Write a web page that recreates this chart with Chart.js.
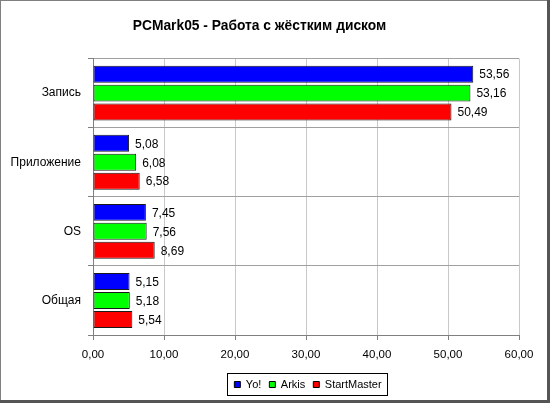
<!DOCTYPE html>
<html>
<head>
<meta charset="utf-8">
<script src="https://cdn.jsdelivr.net/npm/chart.js@4/dist/chart.umd.min.js"></script>
<style>
  html, body { margin: 0; padding: 0; background: #fff; }
  #wrap { width: 550px; height: 403px; }
</style>
</head>
<body>
<div id="wrap"><canvas id="chart" width="550" height="403"></canvas></div>
<script>
// ---- data ----
const categories = ['Запись', 'Приложение', 'OS', 'Общая'];
const yoValues = [53.56, 5.08, 7.45, 5.15];
const arkisValues = [53.16, 6.08, 7.56, 5.18];
const startMasterValues = [50.49, 6.58, 8.69, 5.54];
const seriesNames = ['Yo!', 'Arkis', 'StartMaster'];
const xTicks = [0, 10, 20, 30, 40, 50, 60];

const fmt = (v, d) => v.toFixed(d).replace('.', ',');
const FONT = 'Liberation Sans, Arial, sans-serif';

// рамка вокруг всей картинки
const framePlugin = {
    id: 'frame',
    beforeDraw(chart) {
        const ctx = chart.ctx;
        ctx.save();
        ctx.fillStyle = '#fff';
        ctx.fillRect(0, 0, chart.width, chart.height);
        ctx.fillStyle = '#808080';
        ctx.fillRect(0, 0, chart.width, 1);
        ctx.fillRect(0, 0, 1, chart.height);
        ctx.fillStyle = '#555';
        ctx.fillRect(chart.width - 3, 0, 3, chart.height);
        ctx.fillRect(0, chart.height - 3, chart.width, 3);
        ctx.restore();
    }
};

// легенда центрируется по области графика
const legendCenter = {
    id: 'legendCenter',
    afterLayout(chart) {
        const lg = chart.legend, area = chart.chartArea;
        lg.left = area.left + 2;
        lg.right = area.right + 2;
        lg.width = area.right - area.left;
        lg.top += 5;
        lg.bottom += 5;
    }
};

// подписи значений справа от столбиков
const valueLabels = {
    id: 'valueLabels',
    afterDatasetsDraw(chart) {
        const ctx = chart.ctx;
        ctx.save();
        ctx.font = '12px ' + FONT;
        ctx.fillStyle = '#000';
        ctx.textAlign = 'left';
        ctx.textBaseline = 'middle';
        chart.data.datasets.forEach((ds, i) => {
            chart.getDatasetMeta(i).data.forEach((bar, j) => {
                ctx.fillText(fmt(ds.data[j], 2), bar.x + 6, bar.y + 1);
            });
        });
        ctx.restore();
    }
};

// рамка вокруг легенды
const legendBox = {
    id: 'legendBox',
    afterDraw(chart) {
        const boxes = chart.legend.legendHitBoxes;
        if (!boxes || !boxes.length) return;
        const l = Math.min(...boxes.map(b => b.left));
        const r = Math.max(...boxes.map(b => b.left + b.width));
        const t = Math.min(...boxes.map(b => b.top));
        const b2 = Math.max(...boxes.map(b => b.top + b.height));
        const ctx = chart.ctx;
        ctx.save();
        ctx.strokeStyle = '#000';
        ctx.lineWidth = 1;
        ctx.strokeRect(Math.round(l - 7) + 0.5, Math.round(t - 6) + 0.5,
            Math.round(r - l + 13), Math.round(b2 - t + 11));
        ctx.restore();
    }
};

const mkSet = (label, data, color) => ({
    label: label,
    data: data,
    backgroundColor: color,
    borderColor: '#1a1a1a',
    borderWidth: 1,
    borderSkipped: false,
    categoryPercentage: 0.823,
    barPercentage: 0.895
});

new Chart(document.getElementById('chart'), {
    type: 'bar',
    data: {
        labels: categories,
        datasets: [
            mkSet(seriesNames[0], yoValues, '#0000ff'),
            mkSet(seriesNames[1], arkisValues, '#00ff00'),
            mkSet(seriesNames[2], startMasterValues, '#ff0000')
        ]
    },
    options: {
        indexAxis: 'y',
        responsive: false,
        animation: false,
        layout: { padding: { left: 0, right: 31, top: 0, bottom: 8 } },
        plugins: {
            title: {
                display: true,
                text: 'PCMark05 - Работа с жёстким диском',
                color: '#000',
                font: { family: FONT, size: 13.8, weight: 'bold' },
                padding: { top: 18, bottom: 24 }
            },
            legend: {
                position: 'bottom',
                labels: {
                    color: '#000',
                    font: { family: FONT, size: 11 },
                    boxWidth: 6,
                    boxHeight: 6,
                    padding: 8,
                    generateLabels: (chart) => chart.data.datasets.map((ds, i) => ({
                        text: ds.label,
                        fillStyle: ds.backgroundColor,
                        strokeStyle: '#000',
                        lineWidth: 1,
                        datasetIndex: i
                    }))
                }
            },
            tooltip: { enabled: false }
        },
        scales: {
            x: {
                min: 0,
                max: 60,
                afterBuildTicks: (scale) => { scale.ticks = xTicks.map(v => ({ value: v })); },
                afterFit: (scale) => { scale.height = 31; },
                ticks: {
                    color: '#000',
                    font: { family: FONT, size: 11.5 },
                    padding: 8,
                    callback: (v) => fmt(v, 2)
                },
                grid: { color: '#c8c8c8', tickColor: '#808080', tickLength: 5 },
                border: { color: '#808080' }
            },
            y: {
                afterFit: (scale) => { scale.width = 93; },
                ticks: {
                    color: '#000',
                    font: { family: FONT, size: 12 },
                    padding: 7
                },
                grid: { color: '#a0a0a0', tickColor: '#808080', tickLength: 5 },
                border: { color: '#808080' }
            }
        }
    },
    plugins: [framePlugin, legendCenter, valueLabels, legendBox]
});
</script>
</body>
</html>
